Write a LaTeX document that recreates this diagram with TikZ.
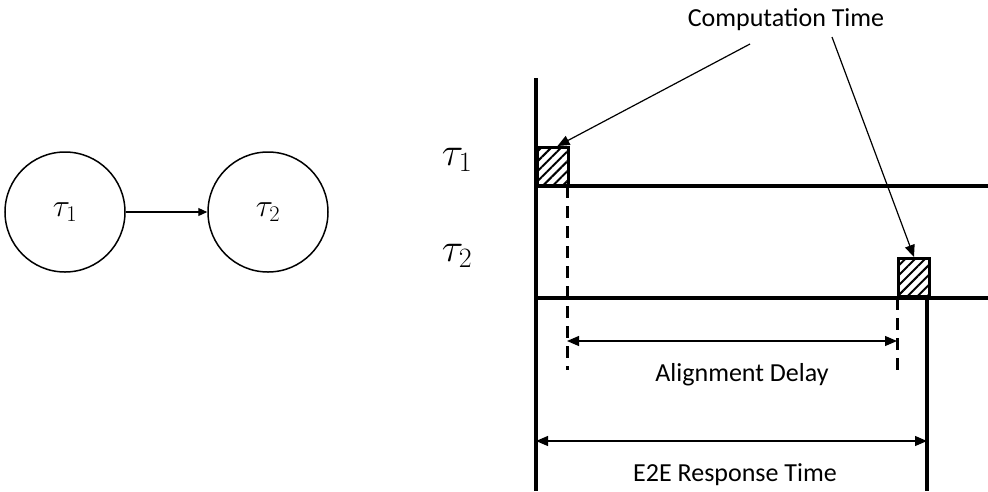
\RequirePackage{fix-cm}
\documentclass[tikz,border=0pt]{standalone}
\usepackage{fontspec}
\setmainfont{Carlito}
\usetikzlibrary{arrows.meta,patterns.meta,shapes.geometric}
\begin{document}
\begin{tikzpicture}[x=1pt,y=-1pt,
  taskcirc/.style={draw, circle, line width=1.5pt, minimum size=120pt, inner sep=0pt, font=\fontsize{32}{38}\selectfont},
  tasklabel/.style={inner sep=0pt, font=\fontsize{40}{48}\selectfont},
  thickline/.style={line width=3.5pt},
  dashline/.style={line width=3pt, dash pattern=on 12pt off 8pt},
  thinline/.style={line width=1.2pt},
  smalltip/.style={-{Triangle[length=9pt,width=8pt]}},
  bigtip/.style={-{Triangle[length=12pt,width=10pt]}},
  bothtips/.style={{Triangle[length=12pt,width=10pt]}-{Triangle[length=12pt,width=10pt]}},
  taskbox/.style={draw, line width=3pt, minimum width=31pt, minimum height=38pt, inner sep=0pt, anchor=south west,
    pattern={Lines[angle=45,distance=7pt,line width=2pt]}},
  caption/.style={font=\fontsize{26}{30}\selectfont}
]
\useasboundingbox (0,0) rectangle (988,491);

% left graph
\node[taskcirc] (c1) at (65,212) {$\tau_1$};
\node[taskcirc] (c2) at (268,212) {$\tau_2$};
\draw[thinline, smalltip] (c1) -- (c2);

% timeline
\node[tasklabel] (l1) at (457,160) {$\tau_1$};
\node[tasklabel] (l2) at (457,256) {$\tau_2$};

\coordinate (axtop) at (536,78);
\coordinate (axbot) at (536,491);
\coordinate (r1a) at (536,186);
\coordinate (r1b) at (988,186);
\coordinate (r2a) at (536,298);
\coordinate (r2b) at (988,298);
\coordinate (e2etop) at (927,298);
\coordinate (e2ebot) at (927,491);
\coordinate (d1top) at (567,186);
\coordinate (d1bot) at (567,370);
\coordinate (d2top) at (897,298);
\coordinate (d2bot) at (897,370);

\draw[thickline] (axtop) -- (axbot);
\draw[thickline] (r1a) -- (r1b);
\draw[thickline] (r2a) -- (r2b);
\draw[thickline] (e2etop) -- (e2ebot);
\draw[dashline] (d1top) -- (d1bot);
\draw[dashline] (d2top) -- (d2bot);

\node[taskbox] (b1) at (536,186) {};
\node[taskbox] (b2) at (897,298) {};

\coordinate (ad1) at (567,341);
\coordinate (ad2) at (897,341);
\draw[thinline, bothtips] (ad1) -- (ad2);
\coordinate (ee1) at (536,441);
\coordinate (ee2) at (927,441);
\draw[thinline, bothtips] (ee1) -- (ee2);

\node[caption] (ct) at (786,20) {Computation Time};
\node[caption] (ad) at (742,375) {Alignment Delay};
\node[caption] (ee) at (735,475) {E2E Response Time};

\coordinate (ca) at (750,44);
\coordinate (cb) at (832,37);
\draw[thinline, bigtip] (ca) -- ([xshift=5pt]b1.north);
\draw[thinline, bigtip] (cb) -- (b2.north);
\end{tikzpicture}
\end{document}
